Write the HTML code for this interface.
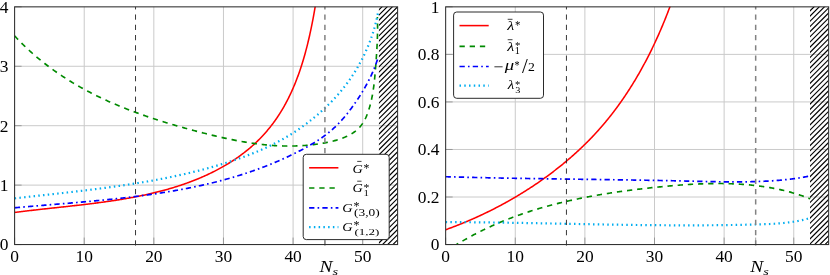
<!DOCTYPE html>
<html><head><meta charset="utf-8"><title>plot</title>
<style>html,body{margin:0;padding:0;background:#fff;}svg{display:block;will-change:transform;}text{font-family:"Liberation Serif",serif;fill:#000;}</style>
</head><body>
<svg width="830" height="275" viewBox="0 0 830 275">
<rect x="0" y="0" width="830" height="275" fill="#fff"/>
<defs>
<clipPath id="clipL"><rect x="14.6" y="6.85" width="383.0" height="237.70000000000002"/></clipPath>
<clipPath id="clipR"><rect x="445.65" y="6.85" width="383.0" height="237.70000000000002"/></clipPath>
</defs>
<path d="M84.22,6.85V244.55M153.84,6.85V244.55M223.46,6.85V244.55M293.08,6.85V244.55M362.70,6.85V244.55M14.6,185.12H397.6M14.6,125.70H397.6M14.6,66.28H397.6" stroke="#cacaca" stroke-width="1.0" fill="none"/>
<path d="M14.60,244.55v-7M84.22,244.55v-7M153.84,244.55v-7M223.46,244.55v-7M293.08,244.55v-7M362.70,244.55v-7M324.90,244.55v-7M14.6,244.55h7M14.6,185.12h7M14.6,125.70h7M14.6,66.28h7M14.6,6.85h7" stroke="#8a8a8a" stroke-width="0.8" fill="none"/>
<g clip-path="url(#clipL)" fill="none" stroke-width="1.7">
<path d="M14.79,212.48 L15.78,212.35 L16.77,212.22 L17.77,212.09 L18.76,211.96 L19.76,211.83 L20.75,211.71 L21.75,211.58 L22.75,211.46 L23.75,211.33 L24.75,211.21 L25.75,211.09 L26.75,210.97 L27.75,210.84 L28.76,210.72 L29.76,210.60 L30.77,210.49 L31.78,210.37 L32.79,210.25 L33.80,210.13 L34.81,210.02 L35.82,209.90 L36.83,209.79 L37.84,209.67 L38.86,209.56 L39.87,209.44 L40.88,209.33 L41.90,209.22 L42.92,209.10 L43.94,208.99 L44.95,208.88 L45.97,208.77 L46.99,208.65 L48.01,208.54 L49.03,208.43 L50.06,208.32 L51.08,208.21 L52.10,208.10 L53.12,207.99 L54.15,207.88 L55.17,207.77 L56.20,207.66 L57.23,207.54 L58.25,207.43 L59.28,207.32 L60.31,207.21 L61.34,207.10 L62.36,206.99 L63.39,206.88 L64.42,206.76 L65.45,206.65 L66.48,206.54 L67.51,206.43 L68.54,206.31 L69.58,206.20 L70.61,206.08 L71.64,205.97 L72.67,205.85 L73.71,205.74 L74.74,205.62 L75.77,205.51 L76.81,205.39 L77.84,205.27 L78.88,205.15 L79.91,205.03 L80.95,204.91 L81.98,204.79 L83.02,204.67 L84.05,204.55 L85.09,204.43 L86.12,204.30 L87.16,204.18 L88.19,204.05 L89.23,203.92 L90.27,203.80 L91.30,203.67 L92.34,203.54 L93.37,203.41 L94.41,203.28 L95.45,203.14 L96.48,203.01 L97.52,202.87 L98.55,202.74 L99.59,202.60 L100.63,202.46 L101.66,202.32 L102.70,202.18 L103.73,202.04 L104.77,201.89 L105.80,201.75 L106.84,201.60 L107.87,201.45 L108.91,201.30 L109.94,201.15 L110.98,201.00 L112.01,200.85 L113.05,200.69 L114.08,200.53 L115.11,200.37 L116.15,200.21 L117.18,200.05 L118.21,199.89 L119.24,199.72 L120.27,199.55 L121.31,199.38 L122.34,199.21 L123.37,199.04 L124.40,198.86 L125.43,198.69 L126.45,198.51 L127.48,198.33 L128.51,198.14 L129.54,197.96 L130.57,197.77 L131.59,197.58 L132.62,197.39 L133.64,197.20 L134.67,197.00 L135.69,196.80 L136.72,196.60 L137.74,196.40 L138.76,196.20 L139.78,195.99 L140.80,195.78 L141.82,195.57 L142.84,195.36 L143.86,195.14 L144.88,194.92 L145.90,194.70 L146.91,194.47 L147.93,194.25 L148.94,194.02 L149.96,193.79 L150.97,193.55 L151.98,193.32 L153.00,193.08 L154.01,192.83 L155.02,192.59 L156.03,192.34 L157.03,192.09 L158.04,191.84 L159.05,191.58 L160.05,191.32 L161.06,191.06 L162.06,190.79 L163.06,190.53 L164.06,190.25 L165.06,189.98 L166.06,189.70 L167.06,189.42 L168.06,189.14 L169.05,188.85 L170.05,188.56 L171.04,188.27 L172.03,187.97 L173.02,187.68 L174.01,187.37 L175.00,187.07 L175.99,186.76 L176.98,186.44 L177.96,186.13 L178.95,185.81 L179.93,185.49 L180.91,185.16 L181.89,184.83 L182.87,184.50 L183.85,184.16 L184.82,183.82 L185.80,183.47 L186.77,183.13 L187.74,182.78 L188.71,182.42 L189.68,182.06 L190.65,181.70 L191.62,181.33 L192.58,180.96 L193.54,180.59 L194.51,180.21 L195.47,179.83 L196.43,179.44 L197.38,179.05 L198.34,178.66 L199.29,178.26 L200.24,177.86 L201.20,177.45 L202.14,177.04 L203.09,176.63 L204.04,176.21 L204.98,175.79 L205.92,175.36 L206.87,174.93 L207.80,174.49 L208.74,174.05 L209.68,173.61 L210.61,173.16 L211.54,172.71 L212.47,172.25 L213.40,171.79 L214.32,171.32 L215.24,170.85 L216.17,170.38 L217.08,169.90 L218.00,169.42 L218.91,168.93 L219.82,168.44 L220.73,167.94 L221.64,167.44 L222.54,166.93 L223.44,166.42 L224.33,165.91 L225.23,165.39 L226.12,164.86 L227.01,164.33 L227.89,163.80 L228.77,163.26 L229.65,162.72 L230.53,162.17 L231.40,161.62 L232.27,161.06 L233.13,160.50 L234.00,159.93 L234.85,159.36 L235.71,158.78 L236.56,158.20 L237.41,157.62 L238.25,157.02 L239.09,156.43 L239.93,155.83 L240.76,155.22 L241.58,154.61 L242.41,153.99 L243.23,153.37 L244.04,152.75 L244.85,152.12 L245.66,151.48 L246.46,150.84 L247.26,150.19 L248.06,149.54 L248.85,148.89 L249.63,148.22 L250.41,147.56 L251.19,146.89 L251.96,146.21 L252.72,145.53 L253.48,144.84 L254.24,144.15 L254.99,143.45 L255.74,142.75 L256.48,142.04 L257.22,141.33 L257.95,140.62 L258.68,139.90 L259.40,139.17 L260.12,138.44 L260.83,137.70 L261.54,136.96 L262.24,136.22 L262.94,135.47 L263.64,134.72 L264.32,133.96 L265.01,133.20 L265.68,132.43 L266.35,131.66 L267.02,130.88 L267.68,130.10 L268.34,129.31 L268.99,128.52 L269.64,127.73 L270.28,126.93 L270.91,126.12 L271.54,125.32 L272.17,124.51 L272.78,123.69 L273.40,122.87 L274.01,122.04 L274.61,121.21 L275.20,120.38 L275.80,119.54 L276.38,118.70 L276.96,117.86 L277.53,117.01 L278.10,116.15 L278.67,115.30 L279.22,114.43 L279.78,113.57 L280.32,112.70 L280.86,111.83 L281.40,110.95 L281.93,110.07 L282.46,109.19 L282.98,108.30 L283.49,107.41 L284.00,106.51 L284.51,105.62 L285.01,104.72 L285.50,103.81 L285.99,102.90 L286.48,101.99 L286.96,101.08 L287.43,100.16 L287.90,99.24 L288.37,98.32 L288.83,97.39 L289.28,96.46 L289.73,95.53 L290.18,94.60 L290.62,93.66 L291.06,92.72 L291.49,91.78 L291.92,90.83 L292.34,89.88 L292.76,88.93 L293.18,87.98 L293.59,87.02 L293.99,86.06 L294.39,85.10 L294.79,84.14 L295.18,83.18 L295.57,82.21 L295.95,81.24 L296.33,80.27 L296.71,79.30 L297.08,78.32 L297.45,77.34 L297.81,76.36 L298.17,75.38 L298.53,74.40 L298.88,73.42 L299.23,72.43 L299.57,71.44 L299.91,70.45 L300.25,69.46 L300.58,68.47 L300.91,67.48 L301.23,66.48 L301.55,65.48 L301.87,64.49 L302.18,63.49 L302.49,62.49 L302.80,61.49 L303.11,60.48 L303.41,59.48 L303.70,58.48 L303.99,57.47 L304.28,56.46 L304.57,55.46 L304.85,54.45 L305.13,53.44 L305.41,52.43 L305.68,51.42 L305.95,50.41 L306.22,49.40 L306.49,48.38 L306.75,47.37 L307.01,46.36 L307.26,45.35 L307.51,44.33 L307.76,43.32 L308.01,42.31 L308.25,41.29 L308.49,40.28 L308.73,39.26 L308.97,38.25 L309.20,37.23 L309.43,36.22 L309.66,35.21 L309.88,34.19 L310.10,33.18 L310.32,32.16 L310.54,31.15 L310.76,30.14 L310.97,29.13 L311.18,28.11 L311.39,27.10 L311.59,26.09 L311.79,25.08 L312.00,24.07 L312.19,23.06 L312.39,22.06 L312.58,21.05 L312.78,20.04 L312.97,19.04 L313.16,18.03 L313.34,17.03 L313.53,16.03 L313.71,15.02 L313.89,14.02 L314.07,13.03 L314.24,12.03 L314.42,11.03 L314.59,10.04 L314.76,9.04 L314.93,8.05 L315.10,7.06 L315.27,6.07 L315.43,5.08 L315.59,4.10 L315.75,3.11 L315.92,2.13 L316.07,1.15" stroke="#ff0000" stroke-width="1.55"/>
<path d="M14.44,35.70 L15.30,36.63 L16.17,37.55 L17.04,38.47 L17.91,39.39 L18.79,40.29 L19.67,41.20 L20.55,42.09 L21.44,42.98 L22.33,43.87 L23.22,44.75 L24.12,45.62 L25.02,46.49 L25.92,47.35 L26.83,48.21 L27.74,49.06 L28.66,49.91 L29.57,50.75 L30.49,51.59 L31.42,52.42 L32.35,53.25 L33.28,54.07 L34.21,54.88 L35.15,55.69 L36.09,56.50 L37.03,57.29 L37.98,58.09 L38.93,58.88 L39.88,59.66 L40.83,60.44 L41.79,61.22 L42.75,61.98 L43.72,62.75 L44.69,63.51 L45.66,64.26 L46.63,65.01 L47.61,65.75 L48.59,66.49 L49.57,67.23 L50.56,67.96 L51.54,68.68 L52.54,69.40 L53.53,70.12 L54.53,70.83 L55.53,71.53 L56.53,72.23 L57.53,72.93 L58.54,73.62 L59.55,74.31 L60.56,74.99 L61.58,75.67 L62.60,76.34 L63.62,77.01 L64.64,77.68 L65.67,78.34 L66.70,78.99 L67.73,79.65 L68.77,80.29 L69.80,80.93 L70.84,81.57 L71.88,82.21 L72.93,82.84 L73.97,83.46 L75.02,84.08 L76.07,84.70 L77.13,85.31 L78.18,85.92 L79.24,86.53 L80.30,87.13 L81.36,87.72 L82.43,88.32 L83.50,88.90 L84.57,89.49 L85.64,90.07 L86.71,90.65 L87.79,91.22 L88.87,91.79 L89.95,92.35 L91.03,92.91 L92.12,93.47 L93.20,94.02 L94.29,94.57 L95.38,95.12 L96.48,95.66 L97.57,96.20 L98.67,96.73 L99.77,97.26 L100.87,97.79 L101.97,98.31 L103.08,98.83 L104.19,99.35 L105.29,99.86 L106.40,100.37 L107.52,100.88 L108.63,101.38 L109.75,101.88 L110.87,102.38 L111.99,102.87 L113.11,103.36 L114.23,103.84 L115.35,104.33 L116.48,104.81 L117.61,105.28 L118.74,105.76 L119.87,106.22 L121.00,106.69 L122.14,107.15 L123.27,107.61 L124.41,108.07 L125.55,108.53 L126.69,108.98 L127.84,109.42 L128.98,109.87 L130.12,110.31 L131.27,110.75 L132.42,111.19 L133.57,111.62 L134.72,112.05 L135.87,112.48 L137.03,112.90 L138.18,113.32 L139.34,113.74 L140.49,114.16 L141.65,114.57 L142.81,114.98 L143.97,115.39 L145.14,115.80 L146.30,116.20 L147.47,116.60 L148.63,117.00 L149.80,117.39 L150.97,117.79 L152.14,118.18 L153.31,118.56 L154.48,118.95 L155.65,119.33 L156.82,119.71 L158.00,120.09 L159.17,120.47 L160.35,120.84 L161.53,121.21 L162.71,121.58 L163.88,121.95 L165.06,122.31 L166.24,122.67 L167.43,123.03 L168.61,123.39 L169.79,123.75 L170.98,124.10 L172.16,124.45 L173.35,124.80 L174.53,125.15 L175.72,125.50 L176.91,125.84 L178.10,126.18 L179.29,126.52 L180.47,126.86 L181.66,127.20 L182.86,127.53 L184.05,127.86 L185.24,128.19 L186.43,128.52 L187.62,128.85 L188.82,129.17 L190.01,129.50 L191.21,129.82 L192.40,130.14 L193.60,130.46 L194.79,130.78 L195.99,131.09 L197.18,131.41 L198.38,131.72 L199.58,132.03 L200.78,132.34 L201.97,132.65 L203.17,132.95 L204.37,133.26 L205.57,133.56 L206.77,133.86 L207.96,134.16 L209.16,134.46 L210.36,134.76 L211.56,135.05 L212.76,135.34 L213.96,135.63 L215.17,135.92 L216.37,136.20 L217.57,136.48 L218.77,136.76 L219.97,137.04 L221.17,137.31 L222.38,137.58 L223.58,137.85 L224.78,138.12 L225.99,138.38 L227.19,138.64 L228.40,138.90 L229.60,139.15 L230.81,139.40 L232.01,139.65 L233.22,139.89 L234.42,140.13 L235.63,140.36 L236.84,140.60 L238.04,140.83 L239.25,141.05 L240.46,141.27 L241.67,141.49 L242.88,141.70 L244.09,141.91 L245.30,142.11 L246.51,142.31 L247.72,142.51 L248.93,142.70 L250.14,142.89 L251.35,143.07 L252.56,143.25 L253.77,143.42 L254.98,143.59 L256.20,143.76 L257.41,143.91 L258.62,144.07 L259.84,144.22 L261.05,144.36 L262.27,144.50 L263.48,144.63 L264.70,144.76 L265.91,144.88 L267.13,145.00 L268.35,145.11 L269.56,145.21 L270.78,145.31 L272.00,145.41 L273.22,145.49 L274.44,145.58 L275.66,145.65 L276.88,145.72 L278.10,145.79 L279.32,145.84 L280.54,145.89 L281.76,145.94 L282.98,145.98 L284.20,146.01 L285.42,146.03 L286.65,146.05 L287.87,146.06 L289.10,146.07 L290.32,146.06 L291.54,146.05 L292.77,146.04 L294.00,146.01 L295.22,145.98 L296.45,145.94 L297.68,145.90 L298.90,145.84 L300.13,145.78 L301.36,145.71 L302.59,145.64 L303.82,145.55 L305.05,145.46 L306.28,145.36 L307.51,145.25 L308.74,145.14 L309.97,145.01 L311.20,144.88 L312.44,144.74 L313.67,144.59 L314.90,144.44 L316.14,144.27 L317.37,144.10 L318.61,143.91 L319.84,143.72 L321.08,143.52 L322.32,143.31 L323.55,143.09 L324.79,142.86 L326.03,142.63 L327.27,142.38 L328.51,142.13 L329.74,141.86 L330.97,141.58 L332.20,141.29 L333.43,140.98 L334.64,140.66 L335.85,140.33 L337.06,139.98 L338.25,139.62 L339.44,139.24 L340.62,138.84 L341.78,138.43 L342.93,137.99 L344.07,137.54 L345.20,137.07 L346.31,136.57 L347.40,136.06 L348.48,135.52 L349.54,134.96 L350.58,134.38 L351.60,133.77 L352.60,133.14 L353.58,132.48 L354.54,131.79 L355.47,131.08 L356.38,130.34 L357.26,129.58 L358.12,128.78 L358.95,127.95 L359.76,127.10 L360.53,126.21 L361.27,125.29 L361.99,124.34 L362.67,123.36 L363.32,122.34 L363.94,121.30 L364.54,120.23 L365.10,119.13 L365.64,118.02 L366.16,116.88 L366.65,115.73 L367.12,114.56 L367.57,113.38 L367.99,112.19 L368.40,110.99 L368.79,109.79 L369.17,108.58 L369.53,107.38 L369.87,106.17 L370.20,104.96 L370.52,103.75 L370.82,102.54 L371.11,101.33 L371.38,100.12 L371.65,98.91 L371.90,97.70 L372.14,96.48 L372.37,95.27 L372.59,94.06 L372.80,92.84 L372.99,91.63 L373.18,90.42 L373.36,89.20 L373.54,87.98 L373.70,86.77 L373.86,85.55 L374.01,84.34 L374.15,83.12 L374.29,81.90 L374.42,80.69 L374.54,79.47 L374.66,78.25 L374.78,77.03 L374.89,75.81 L375.00,74.60 L375.11,73.38 L375.21,72.16 L375.31,70.94 L375.41,69.72 L375.51,68.50 L375.60,67.28 L375.70,66.06 L375.79,64.84 L375.88,63.63 L375.98,62.41 L376.07,61.19 L376.16,59.97 L376.25,58.75 L376.33,57.53 L376.42,56.30 L376.50,55.08 L376.58,53.86 L376.66,52.64 L376.74,51.42 L376.81,50.20 L376.88,48.97 L376.95,47.75 L377.02,46.53 L377.08,45.30 L377.14,44.08 L377.20,42.85 L377.25,41.63 L377.30,40.40 L377.35,39.18 L377.39,37.95 L377.43,36.72 L377.46,35.49 L377.49,34.27 L377.52,33.04 L377.54,31.81 L377.55,30.57 L377.57,29.34 L377.57,28.11 L377.58,26.88 L377.57,25.64 L377.56,24.41 L377.55,23.17 L377.53,21.94 L377.51,20.70 L377.47,19.46 L377.44,18.22 L377.40,16.98" stroke="#008a00" stroke-width="1.65" stroke-dasharray="5.3 4.89"/>
<path d="M14.81,207.79 L15.83,207.70 L16.85,207.61 L17.87,207.51 L18.89,207.42 L19.92,207.33 L20.94,207.24 L21.96,207.15 L22.98,207.06 L24.01,206.97 L25.03,206.88 L26.06,206.79 L27.08,206.70 L28.11,206.61 L29.14,206.52 L30.16,206.44 L31.19,206.35 L32.22,206.26 L33.25,206.17 L34.28,206.09 L35.31,206.00 L36.34,205.91 L37.37,205.82 L38.40,205.74 L39.43,205.65 L40.46,205.56 L41.49,205.48 L42.53,205.39 L43.56,205.31 L44.59,205.22 L45.63,205.13 L46.66,205.05 L47.70,204.96 L48.73,204.88 L49.77,204.79 L50.80,204.70 L51.84,204.62 L52.88,204.53 L53.91,204.45 L54.95,204.36 L55.99,204.27 L57.03,204.19 L58.06,204.10 L59.10,204.01 L60.14,203.93 L61.18,203.84 L62.22,203.75 L63.26,203.67 L64.30,203.58 L65.34,203.49 L66.38,203.40 L67.42,203.32 L68.46,203.23 L69.51,203.14 L70.55,203.05 L71.59,202.96 L72.63,202.87 L73.67,202.78 L74.72,202.69 L75.76,202.60 L76.80,202.51 L77.85,202.42 L78.89,202.33 L79.93,202.24 L80.98,202.15 L82.02,202.05 L83.07,201.96 L84.11,201.87 L85.16,201.77 L86.20,201.68 L87.24,201.59 L88.29,201.49 L89.34,201.39 L90.38,201.30 L91.43,201.20 L92.47,201.10 L93.52,201.01 L94.56,200.91 L95.61,200.81 L96.65,200.71 L97.70,200.61 L98.75,200.51 L99.79,200.41 L100.84,200.31 L101.89,200.20 L102.93,200.10 L103.98,200.00 L105.02,199.89 L106.07,199.79 L107.12,199.68 L108.16,199.57 L109.21,199.47 L110.26,199.36 L111.30,199.25 L112.35,199.14 L113.40,199.03 L114.44,198.92 L115.49,198.80 L116.53,198.69 L117.58,198.58 L118.63,198.46 L119.67,198.35 L120.72,198.23 L121.77,198.11 L122.81,197.99 L123.86,197.87 L124.90,197.75 L125.95,197.63 L126.99,197.51 L128.04,197.39 L129.08,197.26 L130.13,197.14 L131.18,197.01 L132.22,196.88 L133.26,196.76 L134.31,196.63 L135.35,196.50 L136.40,196.37 L137.44,196.23 L138.49,196.10 L139.53,195.96 L140.57,195.83 L141.62,195.69 L142.66,195.55 L143.70,195.41 L144.75,195.27 L145.79,195.13 L146.83,194.99 L147.87,194.84 L148.92,194.70 L149.96,194.55 L151.00,194.40 L152.04,194.25 L153.08,194.10 L154.12,193.95 L155.16,193.80 L156.20,193.64 L157.24,193.49 L158.28,193.33 L159.32,193.17 L160.36,193.01 L161.40,192.85 L162.43,192.69 L163.47,192.52 L164.51,192.36 L165.55,192.19 L166.58,192.02 L167.62,191.85 L168.66,191.68 L169.69,191.51 L170.73,191.33 L171.76,191.16 L172.80,190.98 L173.83,190.80 L174.86,190.62 L175.90,190.44 L176.93,190.25 L177.96,190.07 L178.99,189.88 L180.03,189.69 L181.06,189.50 L182.09,189.31 L183.12,189.12 L184.15,188.92 L185.18,188.72 L186.21,188.52 L187.23,188.32 L188.26,188.12 L189.29,187.92 L190.32,187.71 L191.34,187.50 L192.37,187.30 L193.39,187.08 L194.42,186.87 L195.44,186.66 L196.47,186.44 L197.49,186.22 L198.51,186.00 L199.53,185.78 L200.56,185.55 L201.58,185.33 L202.60,185.10 L203.62,184.87 L204.63,184.64 L205.65,184.41 L206.67,184.17 L207.69,183.93 L208.71,183.69 L209.72,183.45 L210.74,183.21 L211.75,182.96 L212.77,182.71 L213.78,182.46 L214.79,182.21 L215.80,181.96 L216.81,181.70 L217.83,181.44 L218.84,181.18 L219.84,180.92 L220.85,180.65 L221.86,180.39 L222.87,180.12 L223.88,179.85 L224.88,179.57 L225.89,179.30 L226.89,179.02 L227.89,178.74 L228.90,178.46 L229.90,178.17 L230.90,177.89 L231.90,177.60 L232.90,177.31 L233.90,177.01 L234.90,176.72 L235.89,176.42 L236.89,176.12 L237.89,175.81 L238.88,175.51 L239.88,175.20 L240.87,174.89 L241.86,174.58 L242.85,174.26 L243.84,173.94 L244.83,173.62 L245.82,173.30 L246.81,172.97 L247.80,172.65 L248.78,172.32 L249.77,171.98 L250.75,171.65 L251.74,171.31 L252.72,170.97 L253.70,170.63 L254.68,170.28 L255.66,169.93 L256.64,169.58 L257.62,169.23 L258.60,168.87 L259.57,168.51 L260.55,168.15 L261.52,167.79 L262.50,167.42 L263.47,167.05 L264.44,166.68 L265.41,166.30 L266.38,165.93 L267.35,165.55 L268.31,165.16 L269.28,164.78 L270.25,164.39 L271.21,164.00 L272.17,163.60 L273.14,163.20 L274.10,162.80 L275.06,162.40 L276.02,161.99 L276.97,161.59 L277.93,161.17 L278.89,160.76 L279.84,160.34 L280.79,159.92 L281.75,159.50 L282.70,159.07 L283.65,158.64 L284.60,158.21 L285.54,157.77 L286.49,157.33 L287.44,156.89 L288.38,156.45 L289.32,156.00 L290.27,155.55 L291.21,155.09 L292.15,154.64 L293.09,154.18 L294.02,153.71 L294.96,153.25 L295.89,152.78 L296.83,152.31 L297.76,151.83 L298.69,151.35 L299.62,150.87 L300.55,150.38 L301.48,149.89 L302.40,149.40 L303.33,148.91 L304.25,148.41 L305.17,147.90 L306.09,147.40 L307.01,146.89 L307.93,146.37 L308.84,145.86 L309.75,145.33 L310.66,144.81 L311.56,144.28 L312.47,143.74 L313.36,143.20 L314.26,142.65 L315.15,142.10 L316.04,141.55 L316.92,140.98 L317.80,140.42 L318.68,139.85 L319.55,139.27 L320.42,138.68 L321.28,138.09 L322.13,137.50 L322.99,136.90 L323.83,136.29 L324.67,135.67 L325.51,135.05 L326.34,134.42 L327.16,133.79 L327.98,133.15 L328.79,132.50 L329.60,131.84 L330.40,131.18 L331.19,130.51 L331.97,129.83 L332.75,129.14 L333.52,128.45 L334.28,127.74 L335.04,127.03 L335.79,126.32 L336.53,125.59 L337.27,124.86 L338.00,124.12 L338.72,123.38 L339.44,122.63 L340.15,121.87 L340.85,121.11 L341.55,120.34 L342.24,119.56 L342.93,118.78 L343.61,117.99 L344.29,117.20 L344.96,116.41 L345.63,115.60 L346.29,114.80 L346.94,113.98 L347.59,113.17 L348.24,112.35 L348.88,111.52 L349.52,110.69 L350.15,109.86 L350.78,109.02 L351.40,108.18 L352.02,107.33 L352.64,106.49 L353.25,105.64 L353.86,104.78 L354.46,103.93 L355.07,103.07 L355.66,102.20 L356.26,101.34 L356.85,100.47 L357.43,99.60 L358.01,98.73 L358.59,97.85 L359.16,96.97 L359.73,96.09 L360.29,95.20 L360.85,94.32 L361.41,93.43 L361.96,92.53 L362.50,91.64 L363.04,90.74 L363.58,89.84 L364.10,88.93 L364.63,88.03 L365.15,87.12 L365.66,86.20 L366.17,85.29 L366.67,84.37 L367.17,83.45 L367.66,82.53 L368.14,81.60 L368.62,80.68 L369.09,79.75 L369.56,78.81 L370.02,77.88 L370.47,76.94 L370.92,76.00 L371.36,75.06 L371.79,74.11 L372.22,73.16 L372.64,72.21 L373.06,71.26 L373.46,70.30 L373.86,69.34 L374.25,68.38 L374.64,67.42 L375.02,66.45 L375.39,65.49 L375.75,64.51 L376.10,63.54 L376.45,62.57 L376.79,61.59 L377.12,60.61 L377.45,59.63 L377.76,58.64" stroke="#0000ff" stroke-width="1.7" stroke-dasharray="5.3 3.18 1.6 3.165"/>
<path d="M14.64,198.38 L15.73,198.25 L16.82,198.12 L17.91,198.00 L19.00,197.88 L20.09,197.75 L21.18,197.63 L22.26,197.50 L23.35,197.38 L24.45,197.26 L25.54,197.13 L26.63,197.01 L27.72,196.89 L28.81,196.77 L29.90,196.64 L30.99,196.52 L32.08,196.40 L33.18,196.28 L34.27,196.16 L35.36,196.04 L36.45,195.91 L37.55,195.79 L38.64,195.67 L39.73,195.55 L40.83,195.43 L41.92,195.31 L43.02,195.19 L44.11,195.06 L45.21,194.94 L46.30,194.82 L47.40,194.70 L48.49,194.58 L49.59,194.46 L50.68,194.34 L51.78,194.21 L52.87,194.09 L53.97,193.97 L55.06,193.85 L56.16,193.73 L57.26,193.60 L58.35,193.48 L59.45,193.36 L60.54,193.23 L61.64,193.11 L62.74,192.99 L63.83,192.86 L64.93,192.74 L66.03,192.61 L67.12,192.49 L68.22,192.36 L69.32,192.24 L70.42,192.11 L71.51,191.99 L72.61,191.86 L73.71,191.73 L74.80,191.60 L75.90,191.48 L77.00,191.35 L78.10,191.22 L79.19,191.09 L80.29,190.96 L81.39,190.83 L82.49,190.70 L83.58,190.57 L84.68,190.43 L85.78,190.30 L86.88,190.17 L87.97,190.03 L89.07,189.90 L90.17,189.76 L91.27,189.63 L92.36,189.49 L93.46,189.36 L94.56,189.22 L95.65,189.08 L96.75,188.94 L97.85,188.80 L98.95,188.66 L100.04,188.52 L101.14,188.38 L102.24,188.23 L103.33,188.09 L104.43,187.94 L105.52,187.80 L106.62,187.65 L107.72,187.51 L108.81,187.36 L109.91,187.21 L111.00,187.06 L112.10,186.91 L113.20,186.76 L114.29,186.60 L115.39,186.45 L116.48,186.30 L117.58,186.14 L118.67,185.98 L119.76,185.83 L120.86,185.67 L121.95,185.51 L123.05,185.35 L124.14,185.19 L125.23,185.02 L126.33,184.86 L127.42,184.69 L128.51,184.53 L129.61,184.36 L130.70,184.19 L131.79,184.02 L132.88,183.85 L133.97,183.68 L135.07,183.50 L136.16,183.33 L137.25,183.15 L138.34,182.98 L139.43,182.80 L140.52,182.62 L141.61,182.44 L142.70,182.26 L143.79,182.07 L144.88,181.89 L145.97,181.70 L147.05,181.51 L148.14,181.32 L149.23,181.13 L150.32,180.94 L151.41,180.75 L152.49,180.55 L153.58,180.36 L154.67,180.16 L155.75,179.96 L156.84,179.76 L157.92,179.55 L159.01,179.35 L160.09,179.14 L161.18,178.94 L162.26,178.73 L163.34,178.52 L164.43,178.31 L165.51,178.09 L166.59,177.88 L167.67,177.66 L168.75,177.44 L169.83,177.22 L170.92,177.00 L172.00,176.78 L173.08,176.55 L174.15,176.32 L175.23,176.09 L176.31,175.86 L177.39,175.63 L178.47,175.40 L179.54,175.16 L180.62,174.92 L181.70,174.68 L182.77,174.44 L183.85,174.20 L184.92,173.95 L186.00,173.70 L187.07,173.46 L188.14,173.20 L189.22,172.95 L190.29,172.70 L191.36,172.44 L192.43,172.18 L193.50,171.92 L194.57,171.65 L195.64,171.39 L196.71,171.12 L197.78,170.85 L198.85,170.58 L199.92,170.31 L200.98,170.03 L202.05,169.75 L203.12,169.47 L204.18,169.19 L205.25,168.91 L206.31,168.62 L207.37,168.33 L208.44,168.04 L209.50,167.75 L210.56,167.45 L211.62,167.16 L212.68,166.86 L213.74,166.55 L214.80,166.25 L215.86,165.94 L216.92,165.63 L217.97,165.32 L219.03,165.01 L220.09,164.69 L221.14,164.37 L222.20,164.05 L223.25,163.73 L224.31,163.40 L225.36,163.07 L226.41,162.74 L227.46,162.41 L228.51,162.07 L229.56,161.74 L230.61,161.39 L231.66,161.05 L232.70,160.70 L233.75,160.35 L234.80,160.00 L235.84,159.65 L236.88,159.29 L237.92,158.93 L238.97,158.56 L240.01,158.20 L241.04,157.83 L242.08,157.45 L243.12,157.08 L244.15,156.70 L245.18,156.31 L246.22,155.93 L247.25,155.54 L248.28,155.14 L249.30,154.75 L250.33,154.35 L251.36,153.94 L252.38,153.54 L253.40,153.13 L254.42,152.71 L255.44,152.29 L256.46,151.87 L257.47,151.45 L258.48,151.02 L259.50,150.58 L260.51,150.15 L261.51,149.71 L262.52,149.26 L263.52,148.81 L264.53,148.36 L265.53,147.90 L266.52,147.44 L267.52,146.98 L268.52,146.51 L269.51,146.03 L270.50,145.56 L271.49,145.07 L272.47,144.59 L273.45,144.10 L274.44,143.60 L275.41,143.10 L276.39,142.60 L277.36,142.09 L278.34,141.57 L279.31,141.05 L280.27,140.53 L281.24,140.00 L282.20,139.47 L283.16,138.93 L284.12,138.39 L285.07,137.84 L286.02,137.29 L286.97,136.73 L287.92,136.17 L288.86,135.60 L289.80,135.03 L290.74,134.45 L291.67,133.87 L292.60,133.28 L293.53,132.69 L294.46,132.09 L295.38,131.49 L296.30,130.88 L297.22,130.26 L298.13,129.64 L299.05,129.02 L299.95,128.39 L300.86,127.76 L301.76,127.12 L302.66,126.47 L303.56,125.82 L304.45,125.17 L305.34,124.51 L306.22,123.85 L307.11,123.18 L307.99,122.51 L308.86,121.83 L309.74,121.15 L310.61,120.47 L311.47,119.78 L312.34,119.08 L313.20,118.38 L314.05,117.68 L314.91,116.98 L315.75,116.27 L316.60,115.55 L317.44,114.83 L318.28,114.11 L319.11,113.38 L319.95,112.65 L320.77,111.91 L321.59,111.17 L322.41,110.43 L323.23,109.68 L324.04,108.93 L324.85,108.17 L325.65,107.41 L326.45,106.64 L327.24,105.87 L328.03,105.10 L328.81,104.32 L329.59,103.54 L330.37,102.76 L331.14,101.97 L331.91,101.17 L332.67,100.37 L333.43,99.57 L334.18,98.77 L334.93,97.96 L335.67,97.14 L336.41,96.32 L337.14,95.50 L337.87,94.68 L338.59,93.85 L339.31,93.01 L340.02,92.17 L340.73,91.33 L341.43,90.49 L342.13,89.64 L342.82,88.78 L343.50,87.92 L344.18,87.06 L344.86,86.20 L345.53,85.33 L346.19,84.45 L346.85,83.57 L347.50,82.69 L348.14,81.81 L348.78,80.92 L349.42,80.03 L350.05,79.13 L350.67,78.23 L351.29,77.32 L351.90,76.42 L352.50,75.50 L353.10,74.59 L353.70,73.67 L354.29,72.75 L354.87,71.82 L355.45,70.89 L356.02,69.95 L356.58,69.02 L357.14,68.08 L357.69,67.13 L358.24,66.18 L358.78,65.23 L359.32,64.28 L359.84,63.32 L360.37,62.36 L360.89,61.39 L361.40,60.42 L361.90,59.45 L362.40,58.47 L362.89,57.50 L363.38,56.51 L363.86,55.53 L364.34,54.54 L364.81,53.55 L365.27,52.55 L365.73,51.55 L366.18,50.55 L366.62,49.54 L367.06,48.54 L367.49,47.53 L367.92,46.51 L368.33,45.49 L368.75,44.47 L369.15,43.45 L369.55,42.43 L369.95,41.40 L370.33,40.37 L370.71,39.33 L371.09,38.29 L371.45,37.26 L371.82,36.21 L372.17,35.17 L372.52,34.12 L372.86,33.07 L373.19,32.02 L373.52,30.97 L373.84,29.91 L374.15,28.85 L374.46,27.79 L374.76,26.72 L375.05,25.66 L375.33,24.59 L375.61,23.52 L375.88,22.45 L376.15,21.37 L376.40,20.30 L376.65,19.22 L376.90,18.14 L377.13,17.06 L377.36,15.97 L377.58,14.89 L377.79,13.80 L378.00,12.71" stroke="#00adef" stroke-width="2.2" stroke-dasharray="1.5 3.255"/>
</g>
<path d="M135.53,245.55V6.85" stroke="#222" stroke-width="0.9" stroke-dasharray="5.25 5.015" fill="none"/>
<path d="M324.90,245.55V6.85" stroke="#828282" stroke-width="1.5" stroke-dasharray="5.25 5.015" fill="none"/>
<g clip-path="url(#clipL)">
<clipPath id="hL"><rect x="378.9" y="6.85" width="18.700000000000045" height="237.70000000000002"/></clipPath>
<g clip-path="url(#hL)" stroke="#000" stroke-width="1.15">
<path d="M377.90,0.54L398.60,-20.16M377.90,5.72L398.60,-14.98M377.90,10.90L398.60,-9.80M377.90,16.08L398.60,-4.62M377.90,21.26L398.60,0.56M377.90,26.44L398.60,5.74M377.90,31.62L398.60,10.92M377.90,36.80L398.60,16.10M377.90,41.98L398.60,21.28M377.90,47.16L398.60,26.46M377.90,52.34L398.60,31.64M377.90,57.52L398.60,36.82M377.90,62.70L398.60,42.00M377.90,67.88L398.60,47.18M377.90,73.06L398.60,52.36M377.90,78.24L398.60,57.54M377.90,83.42L398.60,62.72M377.90,88.60L398.60,67.90M377.90,93.78L398.60,73.08M377.90,98.96L398.60,78.26M377.90,104.14L398.60,83.44M377.90,109.32L398.60,88.62M377.90,114.50L398.60,93.80M377.90,119.68L398.60,98.98M377.90,124.86L398.60,104.16M377.90,130.04L398.60,109.34M377.90,135.22L398.60,114.52M377.90,140.40L398.60,119.70M377.90,145.58L398.60,124.88M377.90,150.76L398.60,130.06M377.90,155.94L398.60,135.24M377.90,161.12L398.60,140.42M377.90,166.30L398.60,145.60M377.90,171.48L398.60,150.78M377.90,176.66L398.60,155.96M377.90,181.84L398.60,161.14M377.90,187.02L398.60,166.32M377.90,192.20L398.60,171.50M377.90,197.38L398.60,176.68M377.90,202.56L398.60,181.86M377.90,207.74L398.60,187.04M377.90,212.92L398.60,192.22M377.90,218.10L398.60,197.40M377.90,223.28L398.60,202.58M377.90,228.46L398.60,207.76M377.90,233.64L398.60,212.94M377.90,238.82L398.60,218.12M377.90,244.00L398.60,223.30M377.90,249.18L398.60,228.48M377.90,254.36L398.60,233.66M377.90,259.54L398.60,238.84M377.90,264.72L398.60,244.02" fill="none"/>
</g></g>
<rect x="14.6" y="6.85" width="383.0" height="237.70000000000002" fill="none" stroke="#2e2e2e" stroke-width="1.05"/>
<text x="8.40" y="250.45" font-size="17.4" text-anchor="end">0</text>
<text x="8.40" y="191.03" font-size="17.4" text-anchor="end">1</text>
<text x="8.40" y="131.60" font-size="17.4" text-anchor="end">2</text>
<text x="8.40" y="72.18" font-size="17.4" text-anchor="end">3</text>
<text x="8.40" y="12.75" font-size="17.4" text-anchor="end">4</text>
<text x="14.60" y="262.3" font-size="17.4" text-anchor="middle">0</text>
<text x="84.22" y="262.3" font-size="17.4" text-anchor="middle">10</text>
<text x="153.84" y="262.3" font-size="17.4" text-anchor="middle">20</text>
<text x="223.46" y="262.3" font-size="17.4" text-anchor="middle">30</text>
<text x="293.08" y="262.3" font-size="17.4" text-anchor="middle">40</text>
<text x="362.70" y="262.3" font-size="17.4" text-anchor="middle">50</text>
<path d="M515.27,6.85V244.55M584.89,6.85V244.55M654.51,6.85V244.55M724.13,6.85V244.55M793.75,6.85V244.55M445.65,197.01H828.65M445.65,149.47H828.65M445.65,101.93H828.65M445.65,54.39H828.65" stroke="#cacaca" stroke-width="1.0" fill="none"/>
<path d="M445.65,244.55v-7M515.27,244.55v-7M584.89,244.55v-7M654.51,244.55v-7M724.13,244.55v-7M793.75,244.55v-7M755.67,244.55v-7M445.65,244.55h7M445.65,197.01h7M445.65,149.47h7M445.65,101.93h7M445.65,54.39h7M445.65,6.85h7" stroke="#8a8a8a" stroke-width="0.8" fill="none"/>
<g clip-path="url(#clipR)" fill="none" stroke-width="1.7">
<path d="M445.65,229.73 L446.44,229.45 L447.22,229.16 L448.01,228.88 L448.79,228.59 L449.58,228.30 L450.36,228.01 L451.15,227.71 L451.93,227.42 L452.71,227.12 L453.49,226.82 L454.28,226.52 L455.06,226.22 L455.84,225.92 L456.62,225.62 L457.39,225.31 L458.17,225.00 L458.95,224.70 L459.73,224.39 L460.50,224.07 L461.28,223.76 L462.06,223.45 L462.83,223.13 L463.60,222.81 L464.38,222.49 L465.15,222.17 L465.92,221.85 L466.69,221.52 L467.46,221.20 L468.24,220.87 L469.00,220.54 L469.77,220.21 L470.54,219.88 L471.31,219.55 L472.08,219.21 L472.84,218.88 L473.61,218.54 L474.37,218.20 L475.14,217.86 L475.90,217.51 L476.66,217.17 L477.42,216.82 L478.19,216.48 L478.95,216.13 L479.71,215.78 L480.47,215.43 L481.22,215.07 L481.98,214.72 L482.74,214.36 L483.49,214.00 L484.25,213.64 L485.00,213.28 L485.76,212.92 L486.51,212.55 L487.26,212.19 L488.02,211.82 L488.77,211.45 L489.52,211.08 L490.27,210.71 L491.02,210.34 L491.76,209.96 L492.51,209.58 L493.26,209.21 L494.00,208.83 L494.75,208.45 L495.49,208.06 L496.23,207.68 L496.98,207.29 L497.72,206.91 L498.46,206.52 L499.20,206.13 L499.94,205.74 L500.68,205.34 L501.41,204.95 L502.15,204.55 L502.89,204.15 L503.62,203.75 L504.36,203.35 L505.09,202.95 L505.82,202.55 L506.55,202.14 L507.28,201.73 L508.01,201.32 L508.74,200.91 L509.47,200.50 L510.20,200.09 L510.92,199.67 L511.65,199.26 L512.37,198.84 L513.10,198.42 L513.82,198.00 L514.54,197.58 L515.26,197.15 L515.98,196.73 L516.70,196.30 L517.42,195.87 L518.14,195.44 L518.86,195.01 L519.57,194.58 L520.29,194.14 L521.00,193.71 L521.71,193.27 L522.42,192.83 L523.14,192.39 L523.85,191.95 L524.55,191.51 L525.26,191.06 L525.97,190.61 L526.68,190.17 L527.38,189.72 L528.09,189.27 L528.79,188.81 L529.49,188.36 L530.19,187.90 L530.89,187.45 L531.59,186.99 L532.29,186.53 L532.99,186.07 L533.68,185.60 L534.38,185.14 L535.07,184.67 L535.77,184.21 L536.46,183.74 L537.15,183.27 L537.84,182.79 L538.53,182.32 L539.22,181.84 L539.91,181.37 L540.59,180.89 L541.28,180.41 L541.96,179.93 L542.65,179.45 L543.33,178.96 L544.01,178.48 L544.69,177.99 L545.37,177.50 L546.05,177.01 L546.72,176.52 L547.40,176.03 L548.07,175.53 L548.75,175.03 L549.42,174.54 L550.09,174.04 L550.76,173.54 L551.43,173.03 L552.10,172.53 L552.76,172.03 L553.43,171.52 L554.09,171.01 L554.76,170.50 L555.42,169.99 L556.08,169.48 L556.74,168.96 L557.40,168.45 L558.05,167.93 L558.71,167.41 L559.36,166.89 L560.02,166.37 L560.67,165.85 L561.32,165.32 L561.97,164.79 L562.62,164.27 L563.27,163.74 L563.91,163.21 L564.56,162.67 L565.20,162.14 L565.84,161.60 L566.48,161.07 L567.12,160.53 L567.76,159.99 L568.39,159.44 L569.03,158.90 L569.66,158.36 L570.30,157.81 L570.93,157.26 L571.56,156.71 L572.18,156.16 L572.81,155.61 L573.44,155.05 L574.06,154.50 L574.68,153.94 L575.30,153.38 L575.92,152.82 L576.54,152.26 L577.16,151.70 L577.77,151.13 L578.39,150.56 L579.00,150.00 L579.61,149.43 L580.22,148.86 L580.82,148.28 L581.43,147.71 L582.03,147.13 L582.64,146.55 L583.24,145.97 L583.84,145.39 L584.44,144.81 L585.03,144.23 L585.63,143.64 L586.22,143.06 L586.81,142.47 L587.40,141.88 L587.99,141.28 L588.58,140.69 L589.16,140.10 L589.75,139.50 L590.33,138.90 L590.91,138.30 L591.49,137.70 L592.07,137.10 L592.64,136.49 L593.22,135.89 L593.79,135.28 L594.36,134.67 L594.93,134.06 L595.49,133.45 L596.06,132.83 L596.62,132.22 L597.18,131.60 L597.74,130.98 L598.30,130.36 L598.86,129.74 L599.41,129.11 L599.96,128.49 L600.51,127.86 L601.06,127.23 L601.61,126.60 L602.15,125.97 L602.70,125.34 L603.24,124.70 L603.78,124.07 L604.32,123.43 L604.86,122.79 L605.39,122.15 L605.92,121.51 L606.45,120.86 L606.98,120.22 L607.51,119.57 L608.04,118.92 L608.56,118.28 L609.09,117.62 L609.61,116.97 L610.13,116.32 L610.64,115.66 L611.16,115.01 L611.67,114.35 L612.19,113.69 L612.70,113.03 L613.21,112.36 L613.71,111.70 L614.22,111.04 L614.72,110.37 L615.22,109.70 L615.73,109.03 L616.22,108.36 L616.72,107.69 L617.22,107.02 L617.71,106.34 L618.20,105.67 L618.69,104.99 L619.18,104.31 L619.67,103.63 L620.15,102.95 L620.64,102.27 L621.12,101.58 L621.60,100.90 L622.08,100.21 L622.56,99.53 L623.03,98.84 L623.51,98.15 L623.98,97.46 L624.45,96.76 L624.92,96.07 L625.38,95.38 L625.85,94.68 L626.31,93.98 L626.78,93.29 L627.24,92.59 L627.70,91.89 L628.15,91.18 L628.61,90.48 L629.06,89.78 L629.52,89.07 L629.97,88.37 L630.42,87.66 L630.86,86.95 L631.31,86.24 L631.75,85.53 L632.20,84.82 L632.64,84.11 L633.08,83.39 L633.52,82.68 L633.95,81.96 L634.39,81.25 L634.82,80.53 L635.25,79.81 L635.68,79.09 L636.11,78.37 L636.54,77.65 L636.96,76.92 L637.39,76.20 L637.81,75.47 L638.23,74.75 L638.65,74.02 L639.07,73.29 L639.48,72.57 L639.90,71.84 L640.31,71.11 L640.72,70.37 L641.13,69.64 L641.54,68.91 L641.95,68.17 L642.35,67.44 L642.76,66.70 L643.16,65.97 L643.56,65.23 L643.96,64.49 L644.36,63.75 L644.75,63.01 L645.15,62.27 L645.54,61.53 L645.93,60.78 L646.32,60.04 L646.71,59.30 L647.10,58.55 L647.48,57.81 L647.87,57.06 L648.25,56.31 L648.63,55.56 L649.01,54.81 L649.39,54.06 L649.77,53.31 L650.14,52.56 L650.52,51.81 L650.89,51.06 L651.26,50.30 L651.63,49.55 L652.00,48.80 L652.36,48.04 L652.73,47.28 L653.09,46.53 L653.45,45.77 L653.81,45.01 L654.17,44.25 L654.53,43.49 L654.89,42.73 L655.24,41.97 L655.59,41.21 L655.95,40.45 L656.30,39.69 L656.65,38.92 L656.99,38.16 L657.34,37.40 L657.68,36.63 L658.03,35.86 L658.37,35.10 L658.71,34.33 L659.05,33.57 L659.39,32.80 L659.72,32.03 L660.06,31.26 L660.39,30.49 L660.72,29.72 L661.05,28.95 L661.38,28.18 L661.71,27.41 L662.04,26.64 L662.36,25.87 L662.69,25.09 L663.01,24.32 L663.33,23.55 L663.65,22.77 L663.97,22.00 L664.28,21.23 L664.60,20.45 L664.91,19.68 L665.23,18.90 L665.54,18.12 L665.85,17.35 L666.16,16.57 L666.46,15.79 L666.77,15.01 L667.07,14.24 L667.38,13.46 L667.68,12.68 L667.98,11.90 L668.28,11.12 L668.58,10.34 L668.87,9.56 L669.17,8.78 L669.46,8.00 L669.75,7.22 L670.05,6.44 L670.34,5.66 L670.62,4.88 L670.91,4.10 L671.20,3.31 L671.48,2.53 L671.77,1.75 L672.05,0.97" stroke="#ff0000" stroke-width="1.55"/>
<path d="M445.21,251.88 L446.02,251.34 L446.83,250.80 L447.63,250.26 L448.45,249.72 L449.26,249.19 L450.07,248.66 L450.88,248.13 L451.70,247.61 L452.52,247.09 L453.33,246.57 L454.15,246.06 L454.97,245.55 L455.79,245.04 L456.61,244.54 L457.44,244.03 L458.26,243.53 L459.09,243.04 L459.91,242.54 L460.74,242.05 L461.57,241.57 L462.40,241.08 L463.23,240.60 L464.06,240.12 L464.89,239.64 L465.72,239.17 L466.56,238.70 L467.39,238.23 L468.23,237.77 L469.07,237.31 L469.91,236.85 L470.75,236.39 L471.59,235.94 L472.43,235.49 L473.27,235.04 L474.11,234.59 L474.96,234.15 L475.80,233.71 L476.65,233.28 L477.50,232.84 L478.35,232.41 L479.20,231.98 L480.05,231.55 L480.90,231.13 L481.75,230.71 L482.60,230.29 L483.46,229.88 L484.31,229.46 L485.17,229.05 L486.03,228.65 L486.88,228.24 L487.74,227.84 L488.60,227.44 L489.46,227.04 L490.33,226.65 L491.19,226.25 L492.05,225.86 L492.92,225.48 L493.78,225.09 L494.65,224.71 L495.51,224.33 L496.38,223.95 L497.25,223.58 L498.12,223.21 L498.99,222.84 L499.86,222.47 L500.73,222.10 L501.61,221.74 L502.48,221.38 L503.36,221.02 L504.23,220.67 L505.11,220.32 L505.98,219.97 L506.86,219.62 L507.74,219.27 L508.62,218.93 L509.50,218.59 L510.38,218.25 L511.26,217.91 L512.15,217.58 L513.03,217.25 L513.92,216.92 L514.80,216.59 L515.69,216.27 L516.57,215.94 L517.46,215.62 L518.35,215.30 L519.24,214.99 L520.13,214.67 L521.02,214.36 L521.91,214.05 L522.80,213.75 L523.69,213.44 L524.59,213.14 L525.48,212.84 L526.38,212.54 L527.27,212.24 L528.17,211.95 L529.07,211.66 L529.96,211.37 L530.86,211.08 L531.76,210.79 L532.66,210.51 L533.56,210.23 L534.46,209.95 L535.36,209.67 L536.27,209.40 L537.17,209.12 L538.07,208.85 L538.98,208.58 L539.88,208.31 L540.79,208.05 L541.70,207.78 L542.60,207.52 L543.51,207.26 L544.42,207.00 L545.33,206.75 L546.24,206.50 L547.15,206.24 L548.06,205.99 L548.97,205.75 L549.88,205.50 L550.80,205.25 L551.71,205.01 L552.62,204.77 L553.54,204.53 L554.45,204.30 L555.37,204.06 L556.29,203.83 L557.20,203.60 L558.12,203.37 L559.04,203.14 L559.96,202.91 L560.87,202.69 L561.79,202.46 L562.71,202.24 L563.64,202.02 L564.56,201.81 L565.48,201.59 L566.40,201.38 L567.32,201.16 L568.25,200.95 L569.17,200.74 L570.09,200.54 L571.02,200.33 L571.94,200.13 L572.87,199.92 L573.80,199.72 L574.72,199.52 L575.65,199.33 L576.58,199.13 L577.51,198.94 L578.43,198.74 L579.36,198.55 L580.29,198.36 L581.22,198.17 L582.15,197.99 L583.08,197.80 L584.02,197.62 L584.95,197.44 L585.88,197.25 L586.81,197.08 L587.75,196.90 L588.68,196.72 L589.61,196.55 L590.55,196.37 L591.48,196.20 L592.42,196.03 L593.35,195.86 L594.29,195.69 L595.22,195.53 L596.16,195.36 L597.10,195.20 L598.04,195.04 L598.97,194.87 L599.91,194.71 L600.85,194.56 L601.79,194.40 L602.73,194.24 L603.67,194.09 L604.61,193.94 L605.55,193.78 L606.49,193.63 L607.43,193.48 L608.37,193.34 L609.31,193.19 L610.25,193.04 L611.19,192.90 L612.14,192.76 L613.08,192.61 L614.02,192.47 L614.97,192.33 L615.91,192.19 L616.85,192.06 L617.80,191.92 L618.74,191.79 L619.69,191.65 L620.63,191.52 L621.58,191.39 L622.52,191.26 L623.47,191.13 L624.41,191.00 L625.36,190.87 L626.31,190.74 L627.25,190.62 L628.20,190.49 L629.15,190.37 L630.09,190.25 L631.04,190.13 L631.99,190.01 L632.94,189.89 L633.88,189.77 L634.83,189.65 L635.78,189.54 L636.73,189.42 L637.68,189.30 L638.63,189.19 L639.58,189.08 L640.53,188.97 L641.48,188.86 L642.42,188.75 L643.37,188.64 L644.32,188.53 L645.27,188.42 L646.22,188.31 L647.18,188.21 L648.13,188.10 L649.08,188.00 L650.03,187.89 L650.98,187.79 L651.93,187.69 L652.88,187.59 L653.83,187.49 L654.78,187.39 L655.73,187.29 L656.69,187.19 L657.64,187.09 L658.59,187.00 L659.54,186.90 L660.49,186.81 L661.44,186.71 L662.40,186.62 L663.35,186.53 L664.30,186.44 L665.25,186.35 L666.20,186.26 L667.16,186.17 L668.11,186.08 L669.06,186.00 L670.01,185.91 L670.96,185.83 L671.92,185.74 L672.87,185.66 L673.82,185.58 L674.77,185.50 L675.73,185.42 L676.68,185.35 L677.63,185.27 L678.58,185.20 L679.53,185.12 L680.49,185.05 L681.44,184.98 L682.39,184.91 L683.34,184.84 L684.29,184.78 L685.25,184.71 L686.20,184.65 L687.15,184.59 L688.10,184.53 L689.05,184.47 L690.01,184.41 L690.96,184.36 L691.91,184.30 L692.86,184.25 L693.81,184.20 L694.76,184.15 L695.71,184.10 L696.66,184.06 L697.61,184.01 L698.57,183.97 L699.52,183.93 L700.47,183.89 L701.42,183.85 L702.37,183.82 L703.32,183.79 L704.27,183.75 L705.22,183.73 L706.17,183.70 L707.11,183.67 L708.06,183.65 L709.01,183.63 L709.96,183.61 L710.91,183.59 L711.86,183.58 L712.81,183.56 L713.75,183.55 L714.70,183.54 L715.65,183.54 L716.60,183.53 L717.54,183.53 L718.49,183.53 L719.44,183.53 L720.39,183.54 L721.33,183.54 L722.28,183.55 L723.22,183.57 L724.17,183.58 L725.11,183.60 L726.06,183.62 L727.00,183.64 L727.95,183.66 L728.89,183.69 L729.84,183.72 L730.78,183.75 L731.72,183.78 L732.67,183.82 L733.61,183.86 L734.55,183.90 L735.49,183.94 L736.44,183.99 L737.38,184.04 L738.32,184.09 L739.26,184.15 L740.20,184.20 L741.14,184.27 L742.08,184.33 L743.02,184.40 L743.96,184.47 L744.90,184.54 L745.84,184.61 L746.77,184.69 L747.71,184.77 L748.65,184.86 L749.59,184.94 L750.52,185.03 L751.46,185.13 L752.39,185.22 L753.33,185.32 L754.26,185.42 L755.20,185.53 L756.13,185.64 L757.07,185.75 L758.00,185.86 L758.93,185.98 L759.87,186.10 L760.80,186.23 L761.73,186.36 L762.66,186.49 L763.59,186.62 L764.52,186.76 L765.45,186.90 L766.38,187.05 L767.31,187.20 L768.24,187.35 L769.16,187.50 L770.09,187.66 L771.02,187.83 L771.94,187.99 L772.87,188.16 L773.79,188.34 L774.72,188.52 L775.64,188.70 L776.56,188.88 L777.49,189.07 L778.41,189.27 L779.33,189.47 L780.25,189.67 L781.17,189.87 L782.09,190.08 L783.00,190.30 L783.92,190.52 L784.84,190.74 L785.75,190.97 L786.67,191.20 L787.58,191.43 L788.50,191.67 L789.41,191.92 L790.32,192.17 L791.23,192.42 L792.14,192.68 L793.05,192.94 L793.96,193.21 L794.87,193.48 L795.78,193.75 L796.68,194.03 L797.59,194.32 L798.49,194.61 L799.40,194.90 L800.30,195.20 L801.20,195.51 L802.10,195.82 L803.00,196.13 L803.90,196.45 L804.80,196.78 L805.70,197.11 L806.59,197.44 L807.49,197.78 L808.38,198.13 L809.27,198.48 L810.17,198.83" stroke="#008a00" stroke-width="1.65" stroke-dasharray="5.3 4.89"/>
<path d="M445.59,176.72 L446.50,176.74 L447.42,176.77 L448.33,176.80 L449.25,176.82 L450.16,176.85 L451.08,176.87 L451.99,176.90 L452.90,176.92 L453.82,176.95 L454.73,176.97 L455.65,177.00 L456.56,177.02 L457.47,177.05 L458.39,177.07 L459.30,177.10 L460.22,177.12 L461.13,177.14 L462.04,177.17 L462.96,177.19 L463.87,177.21 L464.79,177.24 L465.70,177.26 L466.61,177.28 L467.53,177.30 L468.44,177.33 L469.36,177.35 L470.27,177.37 L471.18,177.39 L472.10,177.41 L473.01,177.44 L473.93,177.46 L474.84,177.48 L475.75,177.50 L476.67,177.52 L477.58,177.54 L478.49,177.56 L479.41,177.58 L480.32,177.60 L481.23,177.62 L482.15,177.64 L483.06,177.66 L483.97,177.68 L484.89,177.70 L485.80,177.72 L486.72,177.74 L487.63,177.76 L488.54,177.78 L489.46,177.80 L490.37,177.82 L491.28,177.84 L492.20,177.86 L493.11,177.87 L494.02,177.89 L494.94,177.91 L495.85,177.93 L496.76,177.95 L497.68,177.96 L498.59,177.98 L499.50,178.00 L500.41,178.02 L501.33,178.04 L502.24,178.05 L503.15,178.07 L504.07,178.09 L504.98,178.10 L505.89,178.12 L506.81,178.14 L507.72,178.15 L508.63,178.17 L509.55,178.19 L510.46,178.20 L511.37,178.22 L512.28,178.24 L513.20,178.25 L514.11,178.27 L515.02,178.28 L515.94,178.30 L516.85,178.32 L517.76,178.33 L518.68,178.35 L519.59,178.36 L520.50,178.38 L521.41,178.39 L522.33,178.41 L523.24,178.42 L524.15,178.44 L525.07,178.45 L525.98,178.47 L526.89,178.48 L527.80,178.50 L528.72,178.51 L529.63,178.53 L530.54,178.54 L531.46,178.56 L532.37,178.57 L533.28,178.58 L534.19,178.60 L535.11,178.61 L536.02,178.63 L536.93,178.64 L537.85,178.66 L538.76,178.67 L539.67,178.68 L540.58,178.70 L541.50,178.71 L542.41,178.72 L543.32,178.74 L544.23,178.75 L545.15,178.76 L546.06,178.78 L546.97,178.79 L547.89,178.81 L548.80,178.82 L549.71,178.83 L550.62,178.85 L551.54,178.86 L552.45,178.87 L553.36,178.88 L554.27,178.90 L555.19,178.91 L556.10,178.92 L557.01,178.94 L557.92,178.95 L558.84,178.96 L559.75,178.98 L560.66,178.99 L561.58,179.00 L562.49,179.01 L563.40,179.03 L564.31,179.04 L565.23,179.05 L566.14,179.06 L567.05,179.08 L567.96,179.09 L568.88,179.10 L569.79,179.12 L570.70,179.13 L571.61,179.14 L572.53,179.15 L573.44,179.17 L574.35,179.18 L575.26,179.19 L576.18,179.20 L577.09,179.22 L578.00,179.23 L578.92,179.24 L579.83,179.25 L580.74,179.27 L581.65,179.28 L582.57,179.29 L583.48,179.30 L584.39,179.32 L585.30,179.33 L586.22,179.34 L587.13,179.35 L588.04,179.37 L588.96,179.38 L589.87,179.39 L590.78,179.40 L591.69,179.42 L592.61,179.43 L593.52,179.44 L594.43,179.46 L595.34,179.47 L596.26,179.48 L597.17,179.49 L598.08,179.51 L599.00,179.52 L599.91,179.53 L600.82,179.54 L601.73,179.56 L602.65,179.57 L603.56,179.58 L604.47,179.60 L605.39,179.61 L606.30,179.62 L607.21,179.64 L608.12,179.65 L609.04,179.66 L609.95,179.67 L610.86,179.69 L611.78,179.70 L612.69,179.71 L613.60,179.73 L614.52,179.74 L615.43,179.75 L616.34,179.77 L617.25,179.78 L618.17,179.80 L619.08,179.81 L619.99,179.82 L620.91,179.84 L621.82,179.85 L622.73,179.86 L623.65,179.88 L624.56,179.89 L625.47,179.91 L626.39,179.92 L627.30,179.93 L628.21,179.95 L629.12,179.96 L630.04,179.98 L630.95,179.99 L631.86,180.01 L632.78,180.02 L633.69,180.04 L634.60,180.05 L635.52,180.06 L636.43,180.08 L637.34,180.09 L638.26,180.11 L639.17,180.12 L640.08,180.14 L641.00,180.16 L641.91,180.17 L642.82,180.19 L643.74,180.20 L644.65,180.22 L645.56,180.23 L646.48,180.25 L647.39,180.27 L648.31,180.28 L649.22,180.30 L650.13,180.31 L651.05,180.33 L651.96,180.35 L652.87,180.36 L653.79,180.38 L654.70,180.40 L655.61,180.41 L656.53,180.43 L657.44,180.45 L658.36,180.46 L659.27,180.48 L660.18,180.50 L661.10,180.52 L662.01,180.53 L662.93,180.55 L663.84,180.57 L664.75,180.59 L665.67,180.61 L666.58,180.62 L667.50,180.64 L668.41,180.66 L669.32,180.68 L670.24,180.70 L671.15,180.72 L672.07,180.73 L672.98,180.75 L673.89,180.77 L674.81,180.79 L675.72,180.81 L676.64,180.83 L677.55,180.85 L678.47,180.87 L679.38,180.89 L680.29,180.91 L681.21,180.93 L682.12,180.95 L683.04,180.97 L683.95,180.99 L684.87,181.01 L685.78,181.03 L686.70,181.06 L687.61,181.08 L688.52,181.10 L689.44,181.12 L690.35,181.14 L691.27,181.16 L692.18,181.19 L693.10,181.21 L694.01,181.23 L694.93,181.25 L695.84,181.27 L696.76,181.30 L697.67,181.32 L698.59,181.34 L699.50,181.36 L700.42,181.38 L701.33,181.40 L702.25,181.43 L703.16,181.45 L704.08,181.47 L704.99,181.49 L705.91,181.51 L706.82,181.53 L707.74,181.55 L708.65,181.57 L709.57,181.59 L710.48,181.61 L711.39,181.63 L712.31,181.64 L713.22,181.66 L714.14,181.68 L715.05,181.70 L715.97,181.71 L716.88,181.73 L717.80,181.74 L718.71,181.76 L719.63,181.77 L720.54,181.78 L721.45,181.80 L722.37,181.81 L723.28,181.82 L724.20,181.83 L725.11,181.84 L726.03,181.85 L726.94,181.86 L727.85,181.87 L728.77,181.87 L729.68,181.88 L730.59,181.88 L731.51,181.89 L732.42,181.89 L733.33,181.89 L734.25,181.89 L735.16,181.89 L736.07,181.89 L736.99,181.89 L737.90,181.89 L738.81,181.89 L739.73,181.88 L740.64,181.87 L741.55,181.87 L742.46,181.86 L743.38,181.85 L744.29,181.84 L745.20,181.83 L746.11,181.81 L747.03,181.80 L747.94,181.78 L748.85,181.77 L749.76,181.75 L750.67,181.73 L751.58,181.71 L752.50,181.68 L753.41,181.66 L754.32,181.63 L755.23,181.61 L756.14,181.58 L757.05,181.55 L757.96,181.52 L758.87,181.48 L759.78,181.45 L760.69,181.41 L761.60,181.37 L762.51,181.33 L763.42,181.29 L764.33,181.25 L765.24,181.20 L766.15,181.16 L767.06,181.11 L767.97,181.06 L768.87,181.01 L769.78,180.95 L770.69,180.90 L771.60,180.84 L772.51,180.78 L773.42,180.72 L774.32,180.65 L775.23,180.59 L776.14,180.52 L777.04,180.45 L777.95,180.38 L778.86,180.31 L779.76,180.23 L780.67,180.15 L781.58,180.07 L782.48,179.99 L783.39,179.90 L784.29,179.81 L785.20,179.72 L786.10,179.63 L787.01,179.54 L787.91,179.44 L788.81,179.33 L789.72,179.23 L790.62,179.12 L791.52,179.01 L792.42,178.90 L793.33,178.78 L794.23,178.66 L795.13,178.53 L796.03,178.40 L796.93,178.27 L797.82,178.14 L798.72,178.00 L799.62,177.85 L800.52,177.70 L801.41,177.55 L802.31,177.40 L803.20,177.24 L804.10,177.07 L804.99,176.90 L805.88,176.73 L806.78,176.55 L807.67,176.37 L808.56,176.18 L809.45,175.99" stroke="#0000ff" stroke-width="1.7" stroke-dasharray="5.3 3.18 1.6 3.165"/>
<path d="M445.61,222.13 L446.52,222.13 L447.43,222.14 L448.35,222.14 L449.26,222.14 L450.17,222.14 L451.09,222.15 L452.00,222.15 L452.91,222.15 L453.83,222.16 L454.74,222.16 L455.65,222.16 L456.56,222.17 L457.48,222.17 L458.39,222.18 L459.30,222.18 L460.22,222.19 L461.13,222.19 L462.04,222.20 L462.96,222.21 L463.87,222.21 L464.78,222.22 L465.70,222.22 L466.61,222.23 L467.52,222.24 L468.44,222.25 L469.35,222.25 L470.26,222.26 L471.18,222.27 L472.09,222.28 L473.00,222.28 L473.91,222.29 L474.83,222.30 L475.74,222.31 L476.65,222.32 L477.57,222.33 L478.48,222.34 L479.39,222.35 L480.31,222.36 L481.22,222.37 L482.13,222.38 L483.05,222.39 L483.96,222.40 L484.87,222.41 L485.79,222.42 L486.70,222.43 L487.61,222.44 L488.53,222.45 L489.44,222.46 L490.35,222.47 L491.27,222.48 L492.18,222.50 L493.09,222.51 L494.01,222.52 L494.92,222.53 L495.83,222.54 L496.75,222.56 L497.66,222.57 L498.58,222.58 L499.49,222.60 L500.40,222.61 L501.32,222.62 L502.23,222.63 L503.14,222.65 L504.06,222.66 L504.97,222.68 L505.88,222.69 L506.80,222.70 L507.71,222.72 L508.62,222.73 L509.54,222.75 L510.45,222.76 L511.36,222.77 L512.28,222.79 L513.19,222.80 L514.10,222.82 L515.02,222.83 L515.93,222.85 L516.84,222.86 L517.76,222.88 L518.67,222.89 L519.59,222.91 L520.50,222.93 L521.41,222.94 L522.33,222.96 L523.24,222.97 L524.15,222.99 L525.07,223.00 L525.98,223.02 L526.89,223.04 L527.81,223.05 L528.72,223.07 L529.63,223.08 L530.55,223.10 L531.46,223.12 L532.38,223.13 L533.29,223.15 L534.20,223.17 L535.12,223.18 L536.03,223.20 L536.94,223.22 L537.86,223.23 L538.77,223.25 L539.68,223.27 L540.60,223.29 L541.51,223.30 L542.43,223.32 L543.34,223.34 L544.25,223.35 L545.17,223.37 L546.08,223.39 L546.99,223.41 L547.91,223.42 L548.82,223.44 L549.74,223.46 L550.65,223.48 L551.56,223.49 L552.48,223.51 L553.39,223.53 L554.30,223.55 L555.22,223.56 L556.13,223.58 L557.04,223.60 L557.96,223.62 L558.87,223.63 L559.79,223.65 L560.70,223.67 L561.61,223.69 L562.53,223.71 L563.44,223.72 L564.35,223.74 L565.27,223.76 L566.18,223.78 L567.10,223.79 L568.01,223.81 L568.92,223.83 L569.84,223.85 L570.75,223.86 L571.66,223.88 L572.58,223.90 L573.49,223.92 L574.41,223.94 L575.32,223.95 L576.23,223.97 L577.15,223.99 L578.06,224.01 L578.97,224.02 L579.89,224.04 L580.80,224.06 L581.72,224.08 L582.63,224.09 L583.54,224.11 L584.46,224.13 L585.37,224.14 L586.28,224.16 L587.20,224.18 L588.11,224.20 L589.03,224.21 L589.94,224.23 L590.85,224.25 L591.77,224.26 L592.68,224.28 L593.59,224.30 L594.51,224.31 L595.42,224.33 L596.34,224.35 L597.25,224.36 L598.16,224.38 L599.08,224.40 L599.99,224.41 L600.91,224.43 L601.82,224.44 L602.73,224.46 L603.65,224.48 L604.56,224.49 L605.47,224.51 L606.39,224.52 L607.30,224.54 L608.22,224.55 L609.13,224.57 L610.04,224.59 L610.96,224.60 L611.87,224.62 L612.78,224.63 L613.70,224.65 L614.61,224.66 L615.53,224.68 L616.44,224.69 L617.35,224.70 L618.27,224.72 L619.18,224.73 L620.09,224.75 L621.01,224.76 L621.92,224.77 L622.84,224.79 L623.75,224.80 L624.66,224.82 L625.58,224.83 L626.49,224.84 L627.40,224.86 L628.32,224.87 L629.23,224.88 L630.15,224.89 L631.06,224.91 L631.97,224.92 L632.89,224.93 L633.80,224.94 L634.71,224.96 L635.63,224.97 L636.54,224.98 L637.46,224.99 L638.37,225.00 L639.28,225.01 L640.20,225.02 L641.11,225.04 L642.02,225.05 L642.94,225.06 L643.85,225.07 L644.77,225.08 L645.68,225.09 L646.59,225.10 L647.51,225.11 L648.42,225.12 L649.33,225.13 L650.25,225.14 L651.16,225.14 L652.08,225.15 L652.99,225.16 L653.90,225.17 L654.82,225.18 L655.73,225.19 L656.64,225.19 L657.56,225.20 L658.47,225.21 L659.39,225.22 L660.30,225.22 L661.21,225.23 L662.13,225.24 L663.04,225.24 L663.95,225.25 L664.87,225.26 L665.78,225.26 L666.69,225.27 L667.61,225.27 L668.52,225.28 L669.44,225.28 L670.35,225.29 L671.26,225.29 L672.18,225.30 L673.09,225.30 L674.00,225.31 L674.92,225.31 L675.83,225.31 L676.74,225.32 L677.66,225.32 L678.57,225.32 L679.49,225.32 L680.40,225.33 L681.31,225.33 L682.23,225.33 L683.14,225.33 L684.05,225.33 L684.97,225.33 L685.88,225.33 L686.79,225.34 L687.71,225.34 L688.62,225.34 L689.53,225.34 L690.45,225.33 L691.36,225.33 L692.28,225.33 L693.19,225.33 L694.10,225.33 L695.02,225.33 L695.93,225.33 L696.84,225.32 L697.76,225.32 L698.67,225.32 L699.58,225.31 L700.50,225.31 L701.41,225.31 L702.32,225.30 L703.24,225.30 L704.15,225.29 L705.06,225.29 L705.98,225.28 L706.89,225.28 L707.80,225.27 L708.72,225.26 L709.63,225.26 L710.55,225.25 L711.46,225.24 L712.37,225.24 L713.29,225.23 L714.20,225.22 L715.11,225.21 L716.03,225.20 L716.94,225.19 L717.85,225.19 L718.77,225.18 L719.68,225.17 L720.59,225.16 L721.51,225.14 L722.42,225.13 L723.33,225.12 L724.25,225.11 L725.16,225.10 L726.07,225.09 L726.99,225.07 L727.90,225.06 L728.81,225.05 L729.73,225.03 L730.64,225.02 L731.55,225.00 L732.47,224.99 L733.38,224.97 L734.29,224.96 L735.21,224.94 L736.12,224.93 L737.03,224.91 L737.94,224.89 L738.86,224.88 L739.77,224.86 L740.68,224.84 L741.60,224.82 L742.51,224.80 L743.42,224.78 L744.34,224.76 L745.25,224.74 L746.16,224.72 L747.08,224.70 L747.99,224.68 L748.90,224.66 L749.82,224.64 L750.73,224.62 L751.64,224.59 L752.56,224.57 L753.47,224.55 L754.38,224.52 L755.29,224.50 L756.21,224.48 L757.12,224.45 L758.03,224.42 L758.95,224.40 L759.86,224.37 L760.77,224.34 L761.68,224.31 L762.60,224.28 L763.51,224.25 L764.42,224.22 L765.33,224.18 L766.25,224.15 L767.16,224.11 L768.07,224.07 L768.98,224.03 L769.89,223.99 L770.80,223.94 L771.71,223.89 L772.62,223.84 L773.53,223.79 L774.44,223.73 L775.35,223.67 L776.26,223.61 L777.16,223.55 L778.07,223.48 L778.98,223.41 L779.89,223.33 L780.79,223.26 L781.70,223.18 L782.60,223.09 L783.51,223.00 L784.41,222.91 L785.31,222.81 L786.21,222.71 L787.12,222.61 L788.02,222.50 L788.92,222.39 L789.82,222.27 L790.72,222.15 L791.62,222.02 L792.51,221.88 L793.41,221.75 L794.31,221.60 L795.20,221.46 L796.10,221.30 L796.99,221.14 L797.88,220.98 L798.77,220.81 L799.67,220.63 L800.56,220.45 L801.44,220.26 L802.33,220.07 L803.22,219.87 L804.11,219.66 L804.99,219.45 L805.88,219.23 L806.76,219.00 L807.64,218.77 L808.52,218.53 L809.40,218.28" stroke="#00adef" stroke-width="2.2" stroke-dasharray="1.5 3.255"/>
</g>
<path d="M566.44,245.55V6.85" stroke="#222" stroke-width="0.9" stroke-dasharray="5.25 5.015" fill="none"/>
<path d="M755.67,245.55V6.85" stroke="#828282" stroke-width="1.5" stroke-dasharray="5.25 5.015" fill="none"/>
<g clip-path="url(#clipR)">
<clipPath id="hR"><rect x="810.0" y="6.85" width="18.649999999999977" height="237.70000000000002"/></clipPath>
<g clip-path="url(#hR)" stroke="#000" stroke-width="1.15">
<path d="M809.00,1.54L829.65,-19.11M809.00,6.72L829.65,-13.93M809.00,11.90L829.65,-8.75M809.00,17.08L829.65,-3.57M809.00,22.26L829.65,1.61M809.00,27.44L829.65,6.79M809.00,32.62L829.65,11.97M809.00,37.80L829.65,17.15M809.00,42.98L829.65,22.33M809.00,48.16L829.65,27.51M809.00,53.34L829.65,32.69M809.00,58.52L829.65,37.87M809.00,63.70L829.65,43.05M809.00,68.88L829.65,48.23M809.00,74.06L829.65,53.41M809.00,79.24L829.65,58.59M809.00,84.42L829.65,63.77M809.00,89.60L829.65,68.95M809.00,94.78L829.65,74.13M809.00,99.96L829.65,79.31M809.00,105.14L829.65,84.49M809.00,110.32L829.65,89.67M809.00,115.50L829.65,94.85M809.00,120.68L829.65,100.03M809.00,125.86L829.65,105.21M809.00,131.04L829.65,110.39M809.00,136.22L829.65,115.57M809.00,141.40L829.65,120.75M809.00,146.58L829.65,125.93M809.00,151.76L829.65,131.11M809.00,156.94L829.65,136.29M809.00,162.12L829.65,141.47M809.00,167.30L829.65,146.65M809.00,172.48L829.65,151.83M809.00,177.66L829.65,157.01M809.00,182.84L829.65,162.19M809.00,188.02L829.65,167.37M809.00,193.20L829.65,172.55M809.00,198.38L829.65,177.73M809.00,203.56L829.65,182.91M809.00,208.74L829.65,188.09M809.00,213.92L829.65,193.27M809.00,219.10L829.65,198.45M809.00,224.28L829.65,203.63M809.00,229.46L829.65,208.81M809.00,234.64L829.65,213.99M809.00,239.82L829.65,219.17M809.00,245.00L829.65,224.35M809.00,250.18L829.65,229.53M809.00,255.36L829.65,234.71M809.00,260.54L829.65,239.89M809.00,265.72L829.65,245.07" fill="none"/>
</g></g>
<rect x="445.65" y="6.85" width="383.0" height="237.70000000000002" fill="none" stroke="#2e2e2e" stroke-width="1.05"/>
<text x="439.45" y="250.45" font-size="17.4" text-anchor="end">0</text>
<text x="439.45" y="202.91" font-size="17.4" text-anchor="end">0.2</text>
<text x="439.45" y="155.37" font-size="17.4" text-anchor="end">0.4</text>
<text x="439.45" y="107.83" font-size="17.4" text-anchor="end">0.6</text>
<text x="439.45" y="60.29" font-size="17.4" text-anchor="end">0.8</text>
<text x="439.45" y="12.75" font-size="17.4" text-anchor="end">1</text>
<text x="445.65" y="262.3" font-size="17.4" text-anchor="middle">0</text>
<text x="515.27" y="262.3" font-size="17.4" text-anchor="middle">10</text>
<text x="584.89" y="262.3" font-size="17.4" text-anchor="middle">20</text>
<text x="654.51" y="262.3" font-size="17.4" text-anchor="middle">30</text>
<text x="724.13" y="262.3" font-size="17.4" text-anchor="middle">40</text>
<text x="793.75" y="262.3" font-size="17.4" text-anchor="middle">50</text>
<rect x="303.2" y="154.3" width="86.0" height="85.29999999999998" rx="3.1" ry="3.1" fill="#fff" stroke="#2a2a2a" stroke-width="1.0"/>
<path d="M309.1,167.8H338.4" stroke="#ff0000" stroke-width="1.55" fill="none"/>
<path d="M309.1,188.0H338.4" stroke="#008a00" stroke-width="1.65" fill="none" stroke-dasharray="5.3 4.89"/>
<path d="M309.1,207.9H338.4" stroke="#0000ff" stroke-width="1.7" fill="none" stroke-dasharray="5.3 3.18 1.6 3.165"/>
<path d="M309.1,227.1H338.4" stroke="#00adef" stroke-width="2.2" fill="none" stroke-dasharray="1.5 3.255"/>
<text transform="translate(319.49,271.90) scale(1.099,1)" font-size="17.69" font-style="italic">N</text>
<text transform="translate(332.38,274.59) scale(1.337,1)" font-size="10.63" font-style="italic">s</text>
<text transform="translate(750.27,271.90) scale(1.099,1)" font-size="17.69" font-style="italic">N</text>
<text transform="translate(763.15,274.59) scale(1.337,1)" font-size="10.63" font-style="italic">s</text>
<text transform="translate(352.52,172.77) scale(1.124,1)" font-size="12.69" font-style="italic">G</text>
<path d="M357.2,161.4H361.5" stroke="#111" stroke-width="0.8"/>
<text transform="translate(363.41,171.54) scale(0.975,1)" font-size="12.05">*</text>
<text transform="translate(352.52,192.37) scale(1.111,1)" font-size="12.84" font-style="italic">G</text>
<path d="M357.2,181.2H361.5" stroke="#111" stroke-width="0.8"/>
<text transform="translate(363.41,191.10) scale(1.046,1)" font-size="11.23">*</text>
<text transform="translate(363.42,195.80) scale(1.185,1)" font-size="9.16">1</text>
<text transform="translate(342.21,212.07) scale(1.098,1)" font-size="13.13" font-style="italic">G</text>
<text transform="translate(353.40,209.88) scale(1.043,1)" font-size="11.51">*</text>
<text transform="translate(354.00,215.99) scale(1.399,1)" font-size="9.56">(3,0)</text>
<text transform="translate(342.21,230.77) scale(1.110,1)" font-size="12.99" font-style="italic">G</text>
<text transform="translate(353.40,228.78) scale(1.043,1)" font-size="11.51">*</text>
<text transform="translate(354.50,235.31) scale(1.450,1)" font-size="9.00">(1,2)</text>
<rect x="453.6" y="12.0" width="89.89999999999998" height="86.3" rx="3.1" ry="3.1" fill="#fff" stroke="#2a2a2a" stroke-width="1.0"/>
<path d="M459.5,25.6H488.7" stroke="#ff0000" stroke-width="1.55" fill="none"/>
<path d="M459.5,46.4H488.7" stroke="#008a00" stroke-width="1.65" fill="none" stroke-dasharray="5.3 4.89"/>
<path d="M459.5,66.5H488.7" stroke="#0000ff" stroke-width="1.7" fill="none" stroke-dasharray="5.3 3.18 1.6 3.165"/>
<path d="M459.5,85.6H488.7" stroke="#00adef" stroke-width="2.2" fill="none" stroke-dasharray="1.5 3.255"/>
<text transform="translate(507.20,29.70) scale(1.341,1)" font-size="12.00" font-style="italic">λ</text>
<path d="M507.7,19.3H512.5" stroke="#111" stroke-width="0.8"/>
<text transform="translate(515.06,29.34) scale(0.892,1)" font-size="12.05">*</text>
<text transform="translate(507.20,50.50) scale(1.280,1)" font-size="12.57" font-style="italic">λ</text>
<path d="M507.7,39.7H512.5" stroke="#111" stroke-width="0.8"/>
<text transform="translate(515.06,48.95) scale(1.006,1)" font-size="10.68">*</text>
<text transform="translate(514.87,54.20) scale(1.053,1)" font-size="9.77">1</text>
<path d="M494.4,66.8H502.6" stroke="#111" stroke-width="0.85"/>
<text transform="translate(504.80,70.27) scale(1.254,1)" font-size="14.93" font-style="italic">μ</text>
<text transform="translate(514.39,69.04) scale(0.850,1)" font-size="12.05">*</text>
<text transform="translate(522.10,73.20) scale(1.029,1)" font-size="20.15">/</text>
<text transform="translate(527.98,70.90) scale(1.093,1)" font-size="12.58">2</text>
<text transform="translate(507.87,89.10) scale(1.125,1)" font-size="13.29" font-style="italic">λ</text>
<text transform="translate(515.08,87.60) scale(0.935,1)" font-size="11.23">*</text>
<text transform="translate(515.29,93.01) scale(1.125,1)" font-size="9.10">3</text>
</svg></body></html>
